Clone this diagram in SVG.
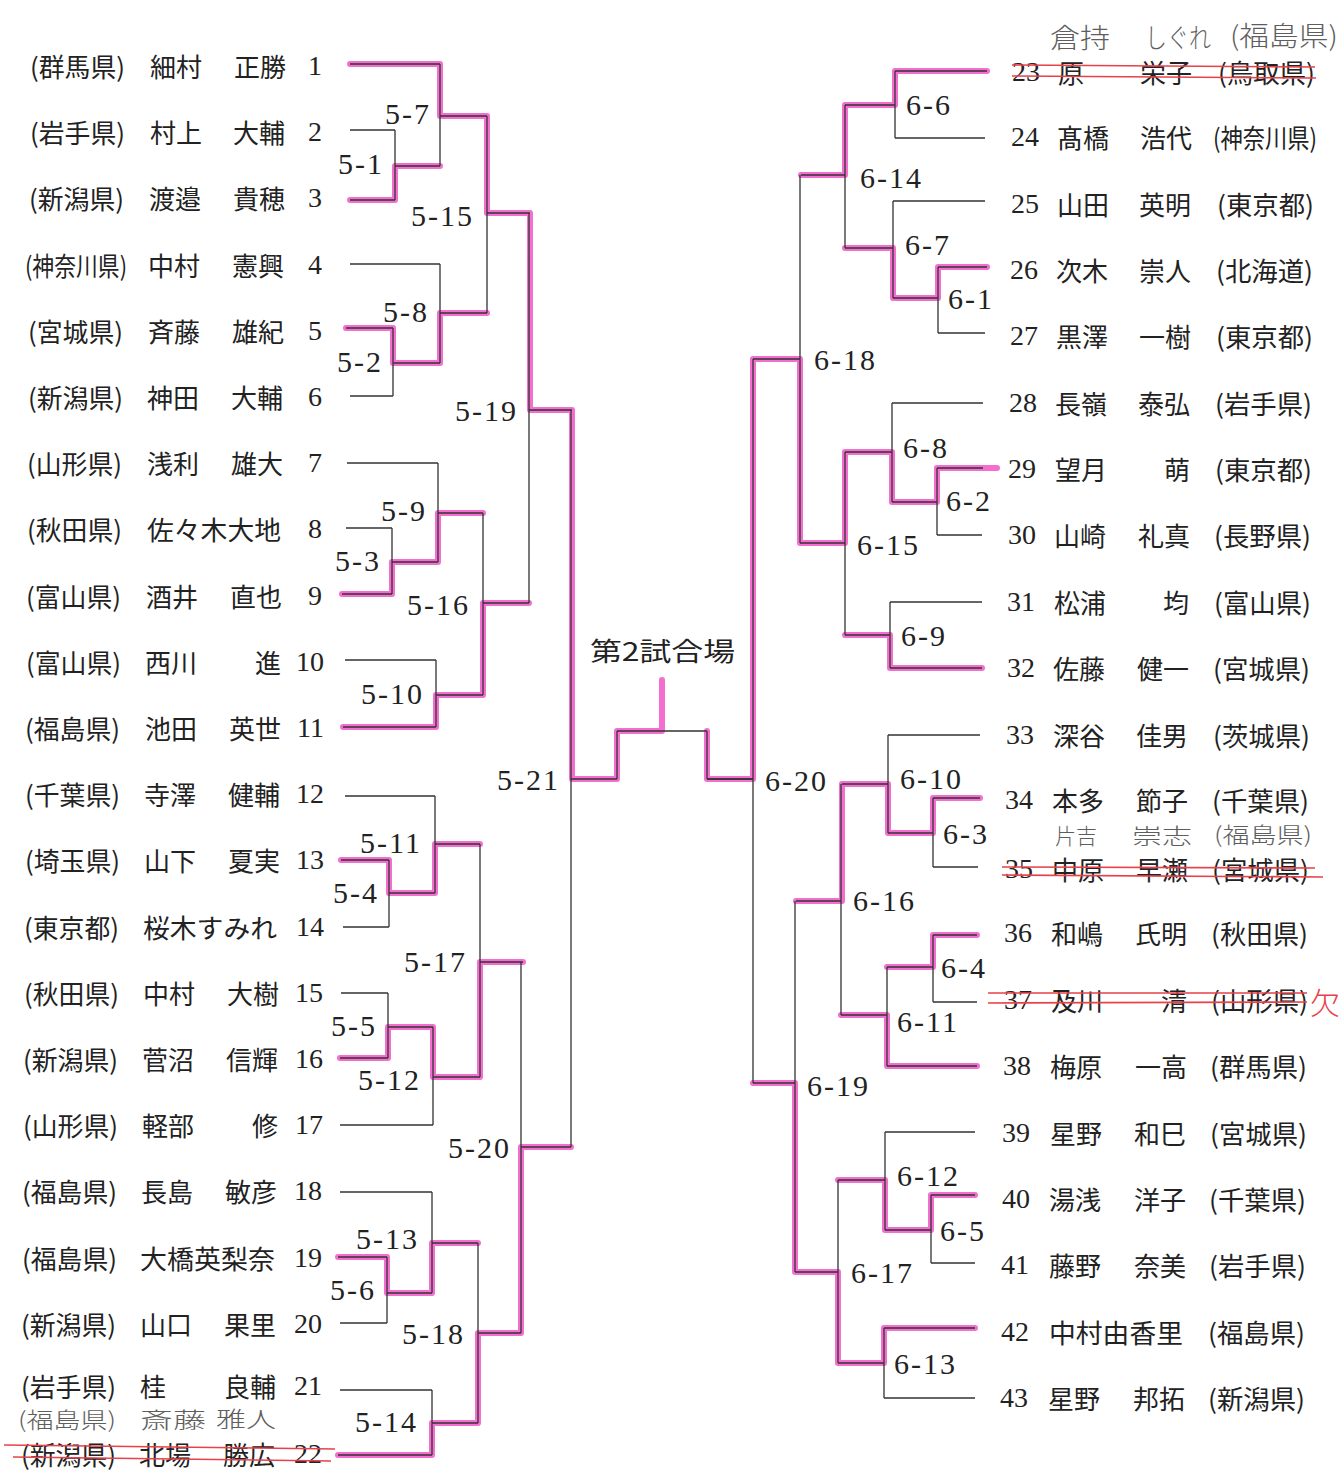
<svg xmlns="http://www.w3.org/2000/svg" width="1343" height="1471" viewBox="0 0 1343 1471">
<style>
.ln{fill:none;stroke:#333;stroke-width:1.3}
.pk{fill:none;stroke:#f24fc6;stroke-width:6;stroke-linecap:round;stroke-linejoin:round;opacity:0.82}
.lbl{font-family:"Liberation Serif",serif;font-size:30px;letter-spacing:2px;fill:#222;dominant-baseline:central}
.jp{font-family:"Noto Sans CJK JP",sans-serif;font-size:26px;fill:#222;dominant-baseline:central}
.num{font-family:"Liberation Serif",serif;font-size:28px;fill:#222;dominant-baseline:central}
.hw{font-family:"Noto Sans CJK JP",sans-serif;font-weight:300;fill:#5e5e5e;dominant-baseline:central}
.st{stroke:#e8414a;stroke-width:1.6;fill:none}
.e{text-anchor:end}
</style>
<rect width="1343" height="1471" fill="#fff"/>
<g id="connectors">
<g id="highlight" class="pk">
<path d="M350,64 H440 V116 H487 V213 H530 V410 H572 V779 H617 V731 H662 V680"/>
<path d="M350,200 H395 V166 H440"/>
<path d="M346,328 H393 V363 H440 V313 H487"/>
<path d="M342,594 H392 V562 H438 V513 H483"/>
<path d="M343,727 H436 V695 H483 V603 H529"/>
<path d="M341,860 H389 V893 H435 V844 H480"/>
<path d="M340,1058 H388 V1027 H433 V1077 H480 V962 H523"/>
<path d="M338,1257 H387 V1293 H432 V1243 H478"/>
<path d="M338,1455 H432 V1423 H478 V1333 H521 V1147 H571"/>
<path d="M987,71 H895 V105 H845 V175 H801"/>
<path d="M987,267 H938 V298 H893 V248 H845"/>
<path d="M997,468 H937 V502 H892 V452 H845 V543 H800 V359 H753 V779 H707 V731"/>
<path d="M982,668 H890 V635 H845"/>
<path d="M980,798 H933 V833 H888 V784 H842 V901 H796"/>
<path d="M977,935 H933 V967 H887"/>
<path d="M977,1066 H887 V1015 H841"/>
<path d="M975,1195 H931 V1230 H885 V1180 H838"/>
<path d="M975,1328 H884 V1363 H838 V1272 H795 V1083 H753"/>
</g>
<g id="lines" class="ln">
<path d="M350,64H440 M350,130H395 M350,200H395 M350,264H440 M346,328H393 M350,396H393 M347,463H438 M346,528H392 M342,594H392 M345,660H436 M343,727H436 M345,796H435 M341,860H389 M343,927H389 M341,993H388 M340,1058H388 M340,1125H433 M340,1192H432 M338,1257H387 M340,1323H387 M340,1390H432 M338,1455H432"/>
<path d="M395,130V200 M395,166H440 M393,328V396 M393,363H440 M440,64V166 M440,116H487 M440,264V363 M440,313H487 M487,116V313 M487,213H530"/>
<path d="M392,528V594 M392,562H438 M438,463V562 M438,513H483 M436,660V727 M436,695H483 M483,513V695 M483,603H529 M529,213V603 M529,410H572"/>
<path d="M389,860V927 M389,893H435 M435,796V893 M435,844H480 M388,993V1058 M388,1027H433 M433,1027V1125 M433,1077H480 M480,844V1077 M480,962H523"/>
<path d="M387,1257V1323 M387,1293H432 M432,1192V1293 M432,1243H478 M432,1390V1455 M432,1423H478 M478,1243V1423 M478,1333H521 M521,962V1333 M521,1147H571 M571,410V1147 M571,779H617"/>
<path d="M617,731V779 M617,731H707 M707,731V779 M707,779H753"/>
<path d="M895,71H987 M895,138H985 M893,201H985 M938,267H987 M938,333H985 M892,403H983 M937,468H983 M937,535H982 M890,602H982 M890,668H982 M888,735H980 M933,798H980 M933,867H978 M933,935H977 M933,1002H977 M887,1066H977 M885,1132H975 M931,1195H975 M931,1263H975 M884,1328H975 M884,1398H975"/>
<path d="M895,71V138 M895,105H845 M938,267V333 M938,298H893 M893,201V298 M893,248H845 M845,105V248 M845,175H801"/>
<path d="M937,468V535 M937,502H892 M892,403V502 M892,452H845 M890,602V668 M890,635H845 M845,452V635 M845,543H800 M800,175V543 M800,359H753"/>
<path d="M933,798V867 M933,833H888 M888,735V833 M888,784H842 M933,935V1002 M933,967H887 M887,967V1066 M887,1015H841 M841,784V1015 M841,901H796"/>
<path d="M931,1195V1263 M931,1230H885 M885,1132V1230 M885,1180H838 M884,1328V1398 M884,1363H838 M838,1180V1363 M838,1272H795 M795,901V1272 M795,1083H753 M753,359V1083 M753,779H707"/>
</g>
</g>
<g id="venue"><text x="590" y="649" class="jp" font-size="29" textLength="145" lengthAdjust="spacingAndGlyphs">第2試合場</text></g>
<g id="matches" class="lbl">
<g id="m5-7"><text x="385" y="113">5-7</text></g>
<g id="m5-1"><text x="338" y="163">5-1</text></g>
<g id="m5-15"><text x="411" y="215">5-15</text></g>
<g id="m5-8"><text x="383" y="311">5-8</text></g>
<g id="m5-2"><text x="337" y="361">5-2</text></g>
<g id="m5-19"><text x="455" y="410">5-19</text></g>
<g id="m5-9"><text x="381" y="510">5-9</text></g>
<g id="m5-3"><text x="335" y="560">5-3</text></g>
<g id="m5-16"><text x="407" y="604">5-16</text></g>
<g id="m5-10"><text x="361" y="693">5-10</text></g>
<g id="m5-21"><text x="497" y="779">5-21</text></g>
<g id="m5-11"><text x="360" y="842">5-11</text></g>
<g id="m5-4"><text x="333" y="892">5-4</text></g>
<g id="m5-17"><text x="404" y="961">5-17</text></g>
<g id="m5-5"><text x="331" y="1025">5-5</text></g>
<g id="m5-12"><text x="358" y="1079">5-12</text></g>
<g id="m5-20"><text x="448" y="1147">5-20</text></g>
<g id="m5-13"><text x="356" y="1238">5-13</text></g>
<g id="m5-6"><text x="330" y="1289">5-6</text></g>
<g id="m5-18"><text x="402" y="1333">5-18</text></g>
<g id="m5-14"><text x="355" y="1421">5-14</text></g>
<g id="m6-6"><text x="906" y="104">6-6</text></g>
<g id="m6-14"><text x="860" y="177">6-14</text></g>
<g id="m6-7"><text x="905" y="244">6-7</text></g>
<g id="m6-1"><text x="948" y="298">6-1</text></g>
<g id="m6-18"><text x="814" y="359">6-18</text></g>
<g id="m6-8"><text x="903" y="447">6-8</text></g>
<g id="m6-2"><text x="946" y="500">6-2</text></g>
<g id="m6-15"><text x="857" y="544">6-15</text></g>
<g id="m6-9"><text x="901" y="635">6-9</text></g>
<g id="m6-20"><text x="765" y="780">6-20</text></g>
<g id="m6-10"><text x="900" y="778">6-10</text></g>
<g id="m6-3"><text x="943" y="833">6-3</text></g>
<g id="m6-16"><text x="853" y="900">6-16</text></g>
<g id="m6-4"><text x="941" y="967">6-4</text></g>
<g id="m6-11"><text x="897" y="1021">6-11</text></g>
<g id="m6-19"><text x="807" y="1085">6-19</text></g>
<g id="m6-12"><text x="897" y="1175">6-12</text></g>
<g id="m6-5"><text x="940" y="1230">6-5</text></g>
<g id="m6-17"><text x="851" y="1272">6-17</text></g>
<g id="m6-13"><text x="894" y="1363">6-13</text></g>
</g>
<g id="left-entries">
<g id="p1"><text class="jp" x="30" y="65" textLength="95" lengthAdjust="spacingAndGlyphs">(群馬県)</text><text class="jp" x="150" y="65">細村</text><text class="jp e" x="286" y="65">正勝</text><text class="num e" x="322" y="65">1</text></g>
<g id="p2"><text class="jp" x="30" y="131" textLength="95" lengthAdjust="spacingAndGlyphs">(岩手県)</text><text class="jp" x="150" y="131">村上</text><text class="jp e" x="285" y="131">大輔</text><text class="num e" x="322" y="131">2</text></g>
<g id="p3"><text class="jp" x="29" y="197" textLength="95" lengthAdjust="spacingAndGlyphs">(新潟県)</text><text class="jp" x="149" y="197">渡邉</text><text class="jp e" x="285" y="197">貴穂</text><text class="num e" x="322" y="197">3</text></g>
<g id="p4"><text class="jp" x="25" y="264" textLength="102" lengthAdjust="spacingAndGlyphs">(神奈川県)</text><text class="jp" x="148" y="264">中村</text><text class="jp e" x="284" y="264">憲興</text><text class="num e" x="322" y="264">4</text></g>
<g id="p5"><text class="jp" x="28" y="330" textLength="95" lengthAdjust="spacingAndGlyphs">(宮城県)</text><text class="jp" x="148" y="330">斉藤</text><text class="jp e" x="284" y="330">雄紀</text><text class="num e" x="322" y="330">5</text></g>
<g id="p6"><text class="jp" x="28" y="396" textLength="95" lengthAdjust="spacingAndGlyphs">(新潟県)</text><text class="jp" x="147" y="396">神田</text><text class="jp e" x="283" y="396">大輔</text><text class="num e" x="322" y="396">6</text></g>
<g id="p7"><text class="jp" x="27" y="462" textLength="95" lengthAdjust="spacingAndGlyphs">(山形県)</text><text class="jp" x="147" y="462">浅利</text><text class="jp e" x="283" y="462">雄大</text><text class="num e" x="322" y="462">7</text></g>
<g id="p8"><text class="jp" x="27" y="528" textLength="95" lengthAdjust="spacingAndGlyphs">(秋田県)</text><text class="jp" x="147" y="528" textLength="134" lengthAdjust="spacingAndGlyphs">佐々木大地</text><text class="num e" x="322" y="528">8</text></g>
<g id="p9"><text class="jp" x="26" y="595" textLength="95" lengthAdjust="spacingAndGlyphs">(富山県)</text><text class="jp" x="146" y="595">酒井</text><text class="jp e" x="282" y="595">直也</text><text class="num e" x="322" y="595">9</text></g>
<g id="p10"><text class="jp" x="26" y="661" textLength="95" lengthAdjust="spacingAndGlyphs">(富山県)</text><text class="jp" x="145" y="661">西川</text><text class="jp e" x="281" y="661">進</text><text class="num e" x="324" y="661">10</text></g>
<g id="p11"><text class="jp" x="25" y="727" textLength="95" lengthAdjust="spacingAndGlyphs">(福島県)</text><text class="jp" x="145" y="727">池田</text><text class="jp e" x="281" y="727">英世</text><text class="num e" x="324" y="727">11</text></g>
<g id="p12"><text class="jp" x="25" y="793" textLength="95" lengthAdjust="spacingAndGlyphs">(千葉県)</text><text class="jp" x="144" y="793">寺澤</text><text class="jp e" x="280" y="793">健輔</text><text class="num e" x="324" y="793">12</text></g>
<g id="p13"><text class="jp" x="25" y="859" textLength="95" lengthAdjust="spacingAndGlyphs">(埼玉県)</text><text class="jp" x="144" y="859">山下</text><text class="jp e" x="280" y="859">夏実</text><text class="num e" x="324" y="859">13</text></g>
<g id="p14"><text class="jp" x="24" y="926" textLength="95" lengthAdjust="spacingAndGlyphs">(東京都)</text><text class="jp" x="143" y="926" textLength="134" lengthAdjust="spacingAndGlyphs">桜木すみれ</text><text class="num e" x="324" y="926">14</text></g>
<g id="p15"><text class="jp" x="24" y="992" textLength="95" lengthAdjust="spacingAndGlyphs">(秋田県)</text><text class="jp" x="143" y="992">中村</text><text class="jp e" x="279" y="992">大樹</text><text class="num e" x="323" y="992">15</text></g>
<g id="p16"><text class="jp" x="23" y="1058" textLength="95" lengthAdjust="spacingAndGlyphs">(新潟県)</text><text class="jp" x="142" y="1058">菅沼</text><text class="jp e" x="278" y="1058">信輝</text><text class="num e" x="323" y="1058">16</text></g>
<g id="p17"><text class="jp" x="23" y="1124" textLength="95" lengthAdjust="spacingAndGlyphs">(山形県)</text><text class="jp" x="142" y="1124">軽部</text><text class="jp e" x="278" y="1124">修</text><text class="num e" x="323" y="1124">17</text></g>
<g id="p18"><text class="jp" x="22" y="1190" textLength="95" lengthAdjust="spacingAndGlyphs">(福島県)</text><text class="jp" x="141" y="1190">長島</text><text class="jp e" x="277" y="1190">敏彦</text><text class="num e" x="322" y="1190">18</text></g>
<g id="p19"><text class="jp" x="22" y="1257" textLength="95" lengthAdjust="spacingAndGlyphs">(福島県)</text><text class="jp" x="140" y="1257" textLength="135" lengthAdjust="spacingAndGlyphs">大橋英梨奈</text><text class="num e" x="322" y="1257">19</text></g>
<g id="p20"><text class="jp" x="21" y="1323" textLength="95" lengthAdjust="spacingAndGlyphs">(新潟県)</text><text class="jp" x="140" y="1323">山口</text><text class="jp e" x="276" y="1323">果里</text><text class="num e" x="322" y="1323">20</text></g>
<g id="p21"><text class="jp" x="21" y="1385" textLength="95" lengthAdjust="spacingAndGlyphs">(岩手県)</text><text class="jp" x="140" y="1385">桂</text><text class="jp e" x="276" y="1385">良輔</text><text class="num e" x="322" y="1385">21</text></g>
<g id="p22"><text class="jp" x="21" y="1453" font-size="25" textLength="95" lengthAdjust="spacingAndGlyphs">(新潟県)</text><text class="jp" x="139" y="1453" font-size="25" textLength="52" lengthAdjust="spacingAndGlyphs">北場</text><text class="jp e" x="275" y="1453" font-size="25" textLength="52" lengthAdjust="spacingAndGlyphs">勝広</text><text class="num e" x="322" y="1453">22</text>
<text class="hw" x="18" y="1418" font-size="22" textLength="98" lengthAdjust="spacingAndGlyphs">(福島県)</text><text class="hw" x="140" y="1418" font-size="22" textLength="66" lengthAdjust="spacingAndGlyphs">斎藤</text><text class="hw" x="216" y="1417" font-size="22" textLength="60" lengthAdjust="spacingAndGlyphs">雅人</text>
<path class="st" d="M4,1445 L335,1449 M13,1457 L331,1461"/></g>
</g>
<g id="right-entries">
<g id="p23"><text class="num" x="1012" y="71">23</text><text class="jp" x="1058" y="71">原</text><text class="jp e" x="1192" y="71">栄子</text><text class="jp" x="1218" y="71" textLength="97" lengthAdjust="spacingAndGlyphs">(鳥取県)</text>
<text class="hw" x="1050" y="36" font-size="27" textLength="60" lengthAdjust="spacingAndGlyphs">倉持</text><text class="hw" x="1145" y="36" font-size="27" textLength="66" lengthAdjust="spacingAndGlyphs">しぐれ</text><text class="hw" x="1230" y="34" font-size="27" textLength="108" lengthAdjust="spacingAndGlyphs">(福島県)</text>
<path class="st" d="M1012,65 L1315,67 M1012,76 L1316,78"/></g>
<g id="p24"><text class="num" x="1011" y="136">24</text><text class="jp" x="1057" y="136">髙橋</text><text class="jp e" x="1192" y="136">浩代</text><text class="jp" x="1213" y="136" textLength="104" lengthAdjust="spacingAndGlyphs">(神奈川県)</text></g>
<g id="p25"><text class="num" x="1011" y="203">25</text><text class="jp" x="1057" y="203">山田</text><text class="jp e" x="1191" y="203">英明</text><text class="jp" x="1217" y="203" textLength="97" lengthAdjust="spacingAndGlyphs">(東京都)</text></g>
<g id="p26"><text class="num" x="1010" y="269">26</text><text class="jp" x="1056" y="269">次木</text><text class="jp e" x="1191" y="269">崇人</text><text class="jp" x="1216" y="269" textLength="97" lengthAdjust="spacingAndGlyphs">(北海道)</text></g>
<g id="p27"><text class="num" x="1010" y="335">27</text><text class="jp" x="1056" y="335">黒澤</text><text class="jp e" x="1191" y="335">一樹</text><text class="jp" x="1216" y="335" textLength="97" lengthAdjust="spacingAndGlyphs">(東京都)</text></g>
<g id="p28"><text class="num" x="1009" y="402">28</text><text class="jp" x="1055" y="402">長嶺</text><text class="jp e" x="1190" y="402">泰弘</text><text class="jp" x="1215" y="402" textLength="97" lengthAdjust="spacingAndGlyphs">(岩手県)</text></g>
<g id="p29"><text class="num" x="1008" y="468">29</text><text class="jp" x="1055" y="468">望月</text><text class="jp e" x="1190" y="468">萌</text><text class="jp" x="1215" y="468" textLength="97" lengthAdjust="spacingAndGlyphs">(東京都)</text></g>
<g id="p30"><text class="num" x="1008" y="534">30</text><text class="jp" x="1054" y="534">山崎</text><text class="jp e" x="1190" y="534">礼真</text><text class="jp" x="1214" y="534" textLength="97" lengthAdjust="spacingAndGlyphs">(長野県)</text></g>
<g id="p31"><text class="num" x="1007" y="601">31</text><text class="jp" x="1054" y="601">松浦</text><text class="jp e" x="1189" y="601">均</text><text class="jp" x="1214" y="601" textLength="97" lengthAdjust="spacingAndGlyphs">(富山県)</text></g>
<g id="p32"><text class="num" x="1007" y="667">32</text><text class="jp" x="1053" y="667">佐藤</text><text class="jp e" x="1189" y="667">健一</text><text class="jp" x="1213" y="667" textLength="97" lengthAdjust="spacingAndGlyphs">(宮城県)</text></g>
<g id="p33"><text class="num" x="1006" y="734">33</text><text class="jp" x="1053" y="734">深谷</text><text class="jp e" x="1188" y="734">佳男</text><text class="jp" x="1213" y="734" textLength="97" lengthAdjust="spacingAndGlyphs">(茨城県)</text></g>
<g id="p34"><text class="num" x="1005" y="799">34</text><text class="jp" x="1052" y="799">本多</text><text class="jp e" x="1188" y="799">節子</text><text class="jp" x="1212" y="799" textLength="97" lengthAdjust="spacingAndGlyphs">(千葉県)</text></g>
<g id="p35"><text class="num" x="1005" y="868">35</text><text class="jp" x="1052" y="868">中原</text><text class="jp e" x="1188" y="868">早瀬</text><text class="jp" x="1212" y="868" textLength="97" lengthAdjust="spacingAndGlyphs">(宮城県)</text>
<text class="hw" x="1055" y="834" font-size="22" textLength="42" lengthAdjust="spacingAndGlyphs">片吉</text><text class="hw" x="1132" y="834" font-size="22" textLength="60" lengthAdjust="spacingAndGlyphs">崇志</text><text class="hw" x="1214" y="833" font-size="22" textLength="98" lengthAdjust="spacingAndGlyphs">(福島県)</text>
<path class="st" d="M1002,867 L1315,868 M1002,875 L1323,877"/></g>
<g id="p36"><text class="num" x="1004" y="932">36</text><text class="jp" x="1051" y="932">和嶋</text><text class="jp e" x="1187" y="932">氏明</text><text class="jp" x="1211" y="932" textLength="97" lengthAdjust="spacingAndGlyphs">(秋田県)</text></g>
<g id="p37"><text class="num" x="1004" y="999">37</text><text class="jp" x="1051" y="999">及川</text><text class="jp e" x="1187" y="999">清</text><text class="jp" x="1211" y="999" textLength="97" lengthAdjust="spacingAndGlyphs">(山形県)</text>
<path class="st" d="M988,993 L1307,993 M988,1003 L1307,1002"/><text class="hw" x="1310" y="1001" font-size="30" style="fill:#e8414a">欠</text></g>
<g id="p38"><text class="num" x="1003" y="1065">38</text><text class="jp" x="1050" y="1065">梅原</text><text class="jp e" x="1187" y="1065">一高</text><text class="jp" x="1210" y="1065" textLength="97" lengthAdjust="spacingAndGlyphs">(群馬県)</text></g>
<g id="p39"><text class="num" x="1002" y="1132">39</text><text class="jp" x="1050" y="1132">星野</text><text class="jp e" x="1186" y="1132">和巳</text><text class="jp" x="1210" y="1132" textLength="97" lengthAdjust="spacingAndGlyphs">(宮城県)</text></g>
<g id="p40"><text class="num" x="1002" y="1198">40</text><text class="jp" x="1049" y="1198">湯浅</text><text class="jp e" x="1186" y="1198">洋子</text><text class="jp" x="1209" y="1198" textLength="97" lengthAdjust="spacingAndGlyphs">(千葉県)</text></g>
<g id="p41"><text class="num" x="1001" y="1264">41</text><text class="jp" x="1049" y="1264">藤野</text><text class="jp e" x="1186" y="1264">奈美</text><text class="jp" x="1209" y="1264" textLength="97" lengthAdjust="spacingAndGlyphs">(岩手県)</text></g>
<g id="p42"><text class="num" x="1001" y="1331">42</text><text class="jp" x="1049" y="1331" textLength="134" lengthAdjust="spacingAndGlyphs">中村由香里</text><text class="jp" x="1208" y="1331" textLength="97" lengthAdjust="spacingAndGlyphs">(福島県)</text></g>
<g id="p43"><text class="num" x="1000" y="1397">43</text><text class="jp" x="1048" y="1397">星野</text><text class="jp e" x="1185" y="1397">邦拓</text><text class="jp" x="1208" y="1397" textLength="97" lengthAdjust="spacingAndGlyphs">(新潟県)</text></g>
</g>
</svg>
